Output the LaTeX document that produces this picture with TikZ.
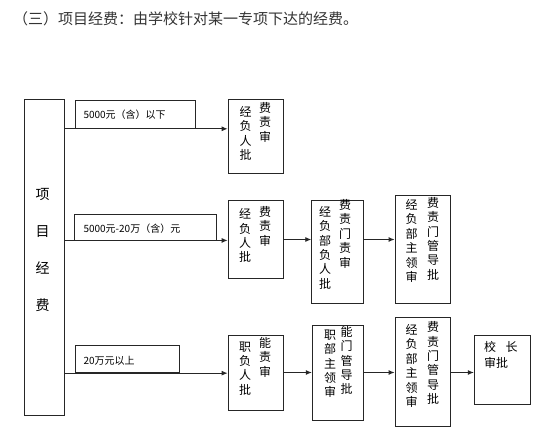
\documentclass[tikz,border=0pt]{standalone}
\usepackage{fontspec}
\setmainfont{Liberation Sans}
\newfontfamily\cjk{Noto Sans CJK SC}
\usetikzlibrary{arrows.meta, backgrounds}

\begin{document}
\begin{tikzpicture}[x=1pt, y=-1pt,
  box/.style={rectangle, draw=black!85, line width=0.9pt, fill=white, inner sep=0pt},
  tag/.style={font=\cjk\fontsize{10}{12}\selectfont, anchor=west, inner sep=0pt},
  col/.style={font=\cjk\fontsize{12}{14.4}\selectfont, align=center, inner sep=0pt},
  arr/.style={-{Latex[length=6pt,width=5pt]}, line width=0.9pt, black!85},
]
  \useasboundingbox (0,0) rectangle (554,441);

  \node[anchor=west, inner sep=0pt, font=\cjk\fontsize{15}{18}\selectfont, text=black!80] (title) at (13,19)
    {（三）项目经费：由学校针对某一专项下达的经费。};

  % left column box
  \node[box, minimum width=40.5pt, minimum height=316pt] (xm) at (44.3,257.3) {};
  \node[col, font=\cjk\fontsize{14}{36.7}\selectfont] (xmt) at (42.7,250) {项\\目\\经\\费};

  % amount ranges
  \node[box, minimum width=120.7pt, minimum height=28.3pt] (c1) at (135.4,114.2) {};
  \node[tag] (c1t) at (83.3,115) {5000元（含）以下};
  \node[box, minimum width=142.4pt, minimum height=26pt] (c2) at (145.5,227) {};
  \node[tag] (c2t) at (83.3,228.3) {5000元-20万（含）元};
  \node[box, minimum width=104pt, minimum height=27pt] (c3) at (127,359.2) {};
  \node[tag] (c3t) at (83.3,361) {20万元以上};

  % approval steps
  \node[box, minimum width=55.3pt, minimum height=74pt] (b1) at (255.7,136.3) {};
  \node[col] (b1l) at (245.7,133.3) {经\\负\\人\\批};
  \node[col] (b1r) at (265,122.4) {费\\责\\审};

  \node[box, minimum width=55.3pt, minimum height=77.6pt] (b2) at (255.7,239.5) {};
  \node[col] (b2l) at (245,235.6) {经\\负\\人\\批};
  \node[col] (b2r) at (265,226.1) {费\\责\\审};

  \node[box, minimum width=51.6pt, minimum height=103.3pt] (b3) at (337.5,251.6) {};
  \node[col] (b3l) at (325,247.7) {经\\负\\部\\负\\人\\批};
  \node[col] (b3r) at (345,233.8) {费\\责\\门\\责\\审};

  \node[box, minimum width=55pt, minimum height=108pt] (b4) at (422.5,249) {};
  \node[col] (b4l) at (411.7,241) {经\\负\\部\\主\\领\\审};
  \node[col] (b4r) at (433,238.7) {费\\责\\门\\管\\导\\批};

  \node[box, minimum width=55.3pt, minimum height=75pt] (b5) at (255.7,372.5) {};
  \node[col] (b5l) at (245,368.3) {职\\负\\人\\批};
  \node[col] (b5r) at (265,357.4) {能\\责\\审};

  \node[box, minimum width=51pt, minimum height=95pt] (b6) at (337.8,372.5) {};
  \node[col] (b6l) at (330,363.8) {职\\部\\主\\领\\审};
  \node[col] (b6r) at (346.7,360.5) {能\\门\\管\\导\\批};

  \node[box, minimum width=55pt, minimum height=108.5pt] (b7) at (422.5,371.8) {};
  \node[col] (b7l) at (411.7,366) {经\\负\\部\\主\\领\\审};
  \node[col] (b7r) at (433,363) {费\\责\\门\\管\\导\\批};

  \node[box, minimum width=56.4pt, minimum height=69pt] (b8) at (502.5,369.5) {};
  \node[col, align=left, anchor=west, font=\cjk\fontsize{12}{16.6}\selectfont] (b8t) at (484,355)
    {校\hspace{9.3pt}长\\审批};

  \begin{scope}[on background layer]
    \draw[arr] (xm.east |- c1.south) -- (b1.west |- c1.south);
    \draw[arr] (xm.east |- c2.south) -- (b2.west |- c2.south);
    \draw[arr] (xm.east |- c3.south) -- (b5.west |- c3.south);
    \draw[arr] (b2.east) -- (b2.east -| b3.west);
    \draw[arr] (b2.east -| b3.east) -- (b2.east -| b4.west);
    \draw[arr] (b5.east) -- (b5.east -| b6.west);
    \draw[arr] (b5.east -| b6.east) -- (b5.east -| b7.west);
    \draw[arr] (b5.east -| b7.east) -- (b5.east -| b8.west);
  \end{scope}
\end{tikzpicture}
\end{document}
